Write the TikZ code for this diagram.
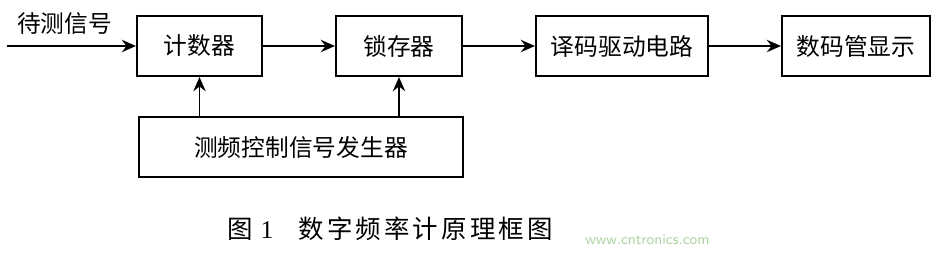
\documentclass[tikz,border=0pt]{standalone}
\usepackage{fontspec}
\setmainfont{Liberation Serif}
\newfontfamily\cjk{Noto Sans CJK SC}
\newfontfamily\cjkwide[LetterSpace=12]{Noto Sans CJK SC}
\usetikzlibrary{arrows.meta,calc}
\definecolor{markgreen}{RGB}{170,212,160}
\tikzset{
  block/.style={
    draw=black,
    line width=1.2pt,
    minimum height=1.2cm,
    inner sep=0pt,
    font=\cjk\fontsize{13.5}{16}\selectfont
  },
  flow/.style={
    line width=1.1pt,
    -{Stealth[length=8pt,width=7pt]}
  },
  label-text/.style={
    inner sep=0pt,
    font=\cjk\fontsize{13.5}{16}\selectfont
  }
}

\begin{document}
\begin{tikzpicture}
  \useasboundingbox (0,0) rectangle (18.72,5.24);
  % top row
  \node[block, minimum width=2.5cm] (counter) at (3.99,4.32) {计数器};
  \node[block, minimum width=2.52cm] (latch) at (7.98,4.32) {锁存器};
  \node[block, minimum width=3.44cm] (decoder) at (12.44,4.32) {译码驱动电路};
  \node[block, minimum width=2.96cm] (display) at (17.12,4.32) {数码管显示};
  % control block
  \node[block, minimum width=6.48cm] (control) at (6.02,2.30) {测频控制信号发生器};
  % input
  \coordinate (input) at (0.14,4.32);
  \node[label-text] (inlabel) at (1.29,4.76) {待测信号};
  \draw[flow] (input) -- (counter);
  \draw[flow] (counter) -- (latch);
  \draw[flow] (latch) -- (decoder);
  \draw[flow] (decoder) -- (display);
  \draw[flow] (control.north -| counter) -- (counter);
  \draw[flow] (control.north -| latch) -- (latch);
  % caption
  \node[inner sep=0pt, font=\cjkwide\fontsize{14.5}{17}\selectfont] (caption) at (7.8,0.66)
    {图\hspace{0.3em}{\rmfamily 1}\hspace{1.0em}数字频率计原理框图};
  \node[inner sep=0pt, text=markgreen, font=\sffamily\fontsize{8.5}{10}\selectfont] (mark) at (12.95,0.45)
    {www.cntronics.com};
\end{tikzpicture}
\end{document}
